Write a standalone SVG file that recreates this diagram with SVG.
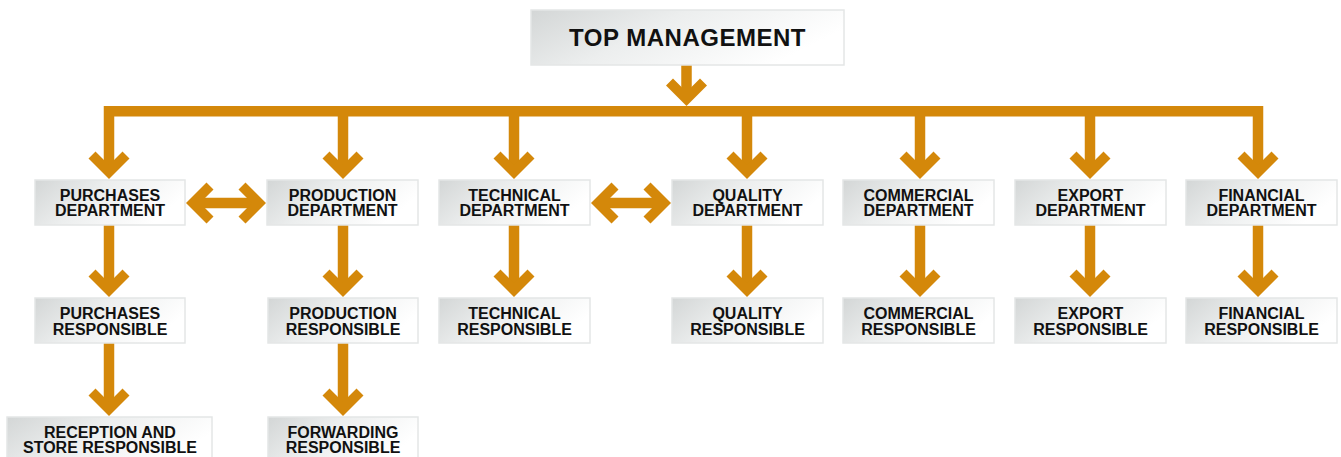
<svg xmlns="http://www.w3.org/2000/svg" width="1341" height="457" viewBox="0 0 1341 457">
  <defs>
    <linearGradient id="boxFill" x1="0" y1="0" x2="1" y2="0.35">
      <stop offset="0" stop-color="#d3d6d6"/>
      <stop offset="0.45" stop-color="#eceeee"/>
      <stop offset="1" stop-color="#ffffff"/>
    </linearGradient>
    <!-- chevron head, tip at origin, pointing down -->
    <path id="head" d="M0 0 L-20.5 -20.5 L-13.5 -27.5 L0 -14 L13.5 -27.5 L20.5 -20.5 Z"/>
  </defs>
  <style>
    .box { fill: url(#boxFill); stroke: #e4e6e6; stroke-width: 1.5; }
    .lbl { font-family: "Liberation Sans", Arial, sans-serif; font-weight: bold; font-size: 16px; fill: #111111; text-anchor: middle; }
    .title { font-size: 24px; }
    .wire { fill: none; stroke: #d4880a; stroke-width: 10.5; stroke-linejoin: miter; stroke-linecap: butt; }
    .arrowhead { fill: #d4880a; }
  </style>

  <rect width="1341" height="457" fill="#ffffff"/>

  <!-- connectors -->
  <g id="connectors">
    <!-- top management to the distribution bar -->
    <line class="wire" x1="686.5" y1="65" x2="686.5" y2="94"/>
    <use href="#head" class="arrowhead" transform="translate(686.5,106)"/>
    <!-- distribution bar with drops to each department -->
    <path class="wire" d="M109 165 V111.25 H1258 V165"/>
    <line class="wire" x1="343" y1="111" x2="343" y2="165"/>
    <line class="wire" x1="514" y1="111" x2="514" y2="165"/>
    <line class="wire" x1="747" y1="111" x2="747" y2="165"/>
    <line class="wire" x1="920" y1="111" x2="920" y2="165"/>
    <line class="wire" x1="1090" y1="111" x2="1090" y2="165"/>
    <use href="#head" class="arrowhead" transform="translate(109,179)"/>
    <use href="#head" class="arrowhead" transform="translate(343,179)"/>
    <use href="#head" class="arrowhead" transform="translate(514,179)"/>
    <use href="#head" class="arrowhead" transform="translate(747,179)"/>
    <use href="#head" class="arrowhead" transform="translate(920,179)"/>
    <use href="#head" class="arrowhead" transform="translate(1090,179)"/>
    <use href="#head" class="arrowhead" transform="translate(1258,179)"/>

    <!-- two-way links between departments -->
    <line class="wire" x1="200" y1="203" x2="252" y2="203"/>
    <use href="#head" class="arrowhead" transform="translate(186,203) rotate(90)"/>
    <use href="#head" class="arrowhead" transform="translate(266,203) rotate(-90)"/>
    <line class="wire" x1="605" y1="203" x2="657" y2="203"/>
    <use href="#head" class="arrowhead" transform="translate(591,203) rotate(90)"/>
    <use href="#head" class="arrowhead" transform="translate(671,203) rotate(-90)"/>

    <!-- department to responsible -->
    <line class="wire" x1="109" y1="225" x2="109" y2="284"/>
    <line class="wire" x1="343" y1="225" x2="343" y2="284"/>
    <line class="wire" x1="514" y1="225" x2="514" y2="284"/>
    <line class="wire" x1="747" y1="225" x2="747" y2="284"/>
    <line class="wire" x1="920" y1="225" x2="920" y2="284"/>
    <line class="wire" x1="1090" y1="225" x2="1090" y2="284"/>
    <line class="wire" x1="1258" y1="225" x2="1258" y2="284"/>
    <use href="#head" class="arrowhead" transform="translate(109,297)"/>
    <use href="#head" class="arrowhead" transform="translate(343,297)"/>
    <use href="#head" class="arrowhead" transform="translate(514,297)"/>
    <use href="#head" class="arrowhead" transform="translate(747,297)"/>
    <use href="#head" class="arrowhead" transform="translate(920,297)"/>
    <use href="#head" class="arrowhead" transform="translate(1090,297)"/>
    <use href="#head" class="arrowhead" transform="translate(1258,297)"/>

    <!-- responsible to third level -->
    <line class="wire" x1="109" y1="343" x2="109" y2="403"/>
    <line class="wire" x1="343" y1="343" x2="343" y2="403"/>
    <use href="#head" class="arrowhead" transform="translate(109,416)"/>
    <use href="#head" class="arrowhead" transform="translate(343,416)"/>
  </g>

  <!-- top management -->
  <g id="top-management">
    <rect class="box" x="531" y="10" width="313" height="55"/>
    <text class="lbl title" x="687.5" y="46" letter-spacing="0.5">TOP MANAGEMENT</text>
  </g>

  <!-- departments -->
  <g id="purchases-department">
    <rect class="box" x="35" y="180" width="150" height="45"/>
    <text class="lbl" x="110" y="200.5">PURCHASES</text>
    <text class="lbl" x="110" y="216">DEPARTMENT</text>
  </g>
  <g id="production-department">
    <rect class="box" x="267" y="180" width="151" height="45"/>
    <text class="lbl" x="342.5" y="200.5">PRODUCTION</text>
    <text class="lbl" x="342.5" y="216">DEPARTMENT</text>
  </g>
  <g id="technical-department">
    <rect class="box" x="439" y="180" width="151" height="45"/>
    <text class="lbl" x="514.5" y="200.5">TECHNICAL</text>
    <text class="lbl" x="514.5" y="216">DEPARTMENT</text>
  </g>
  <g id="quality-department">
    <rect class="box" x="672" y="180" width="151" height="45"/>
    <text class="lbl" x="747.5" y="200.5">QUALITY</text>
    <text class="lbl" x="747.5" y="216">DEPARTMENT</text>
  </g>
  <g id="commercial-department">
    <rect class="box" x="843" y="180" width="151" height="45"/>
    <text class="lbl" x="918.5" y="200.5">COMMERCIAL</text>
    <text class="lbl" x="918.5" y="216">DEPARTMENT</text>
  </g>
  <g id="export-department">
    <rect class="box" x="1015" y="180" width="151" height="45"/>
    <text class="lbl" x="1090.5" y="200.5">EXPORT</text>
    <text class="lbl" x="1090.5" y="216">DEPARTMENT</text>
  </g>
  <g id="financial-department">
    <rect class="box" x="1186" y="180" width="151" height="45"/>
    <text class="lbl" x="1261.5" y="200.5">FINANCIAL</text>
    <text class="lbl" x="1261.5" y="216">DEPARTMENT</text>
  </g>

  <!-- responsibles -->
  <g id="purchases-responsible">
    <rect class="box" x="35" y="298" width="150" height="45"/>
    <text class="lbl" x="110" y="319">PURCHASES</text>
    <text class="lbl" x="110" y="334.5">RESPONSIBLE</text>
  </g>
  <g id="production-responsible">
    <rect class="box" x="268" y="298" width="150" height="45"/>
    <text class="lbl" x="343" y="319">PRODUCTION</text>
    <text class="lbl" x="343" y="334.5">RESPONSIBLE</text>
  </g>
  <g id="technical-responsible">
    <rect class="box" x="439" y="298" width="151" height="45"/>
    <text class="lbl" x="514.5" y="319">TECHNICAL</text>
    <text class="lbl" x="514.5" y="334.5">RESPONSIBLE</text>
  </g>
  <g id="quality-responsible">
    <rect class="box" x="672" y="298" width="151" height="45"/>
    <text class="lbl" x="747.5" y="319">QUALITY</text>
    <text class="lbl" x="747.5" y="334.5">RESPONSIBLE</text>
  </g>
  <g id="commercial-responsible">
    <rect class="box" x="843" y="298" width="151" height="45"/>
    <text class="lbl" x="918.5" y="319">COMMERCIAL</text>
    <text class="lbl" x="918.5" y="334.5">RESPONSIBLE</text>
  </g>
  <g id="export-responsible">
    <rect class="box" x="1015" y="298" width="151" height="45"/>
    <text class="lbl" x="1090.5" y="319">EXPORT</text>
    <text class="lbl" x="1090.5" y="334.5">RESPONSIBLE</text>
  </g>
  <g id="financial-responsible">
    <rect class="box" x="1186" y="298" width="151" height="45"/>
    <text class="lbl" x="1261.5" y="319">FINANCIAL</text>
    <text class="lbl" x="1261.5" y="334.5">RESPONSIBLE</text>
  </g>

  <!-- third level -->
  <g id="reception-store-responsible">
    <rect class="box" x="7" y="417" width="205" height="46"/>
    <text class="lbl" x="110" y="437.5">RECEPTION AND</text>
    <text class="lbl" x="110" y="453">STORE RESPONSIBLE</text>
  </g>
  <g id="forwarding-responsible">
    <rect class="box" x="268" y="417" width="150" height="46"/>
    <text class="lbl" x="343" y="437.5">FORWARDING</text>
    <text class="lbl" x="343" y="453">RESPONSIBLE</text>
  </g>
</svg>
